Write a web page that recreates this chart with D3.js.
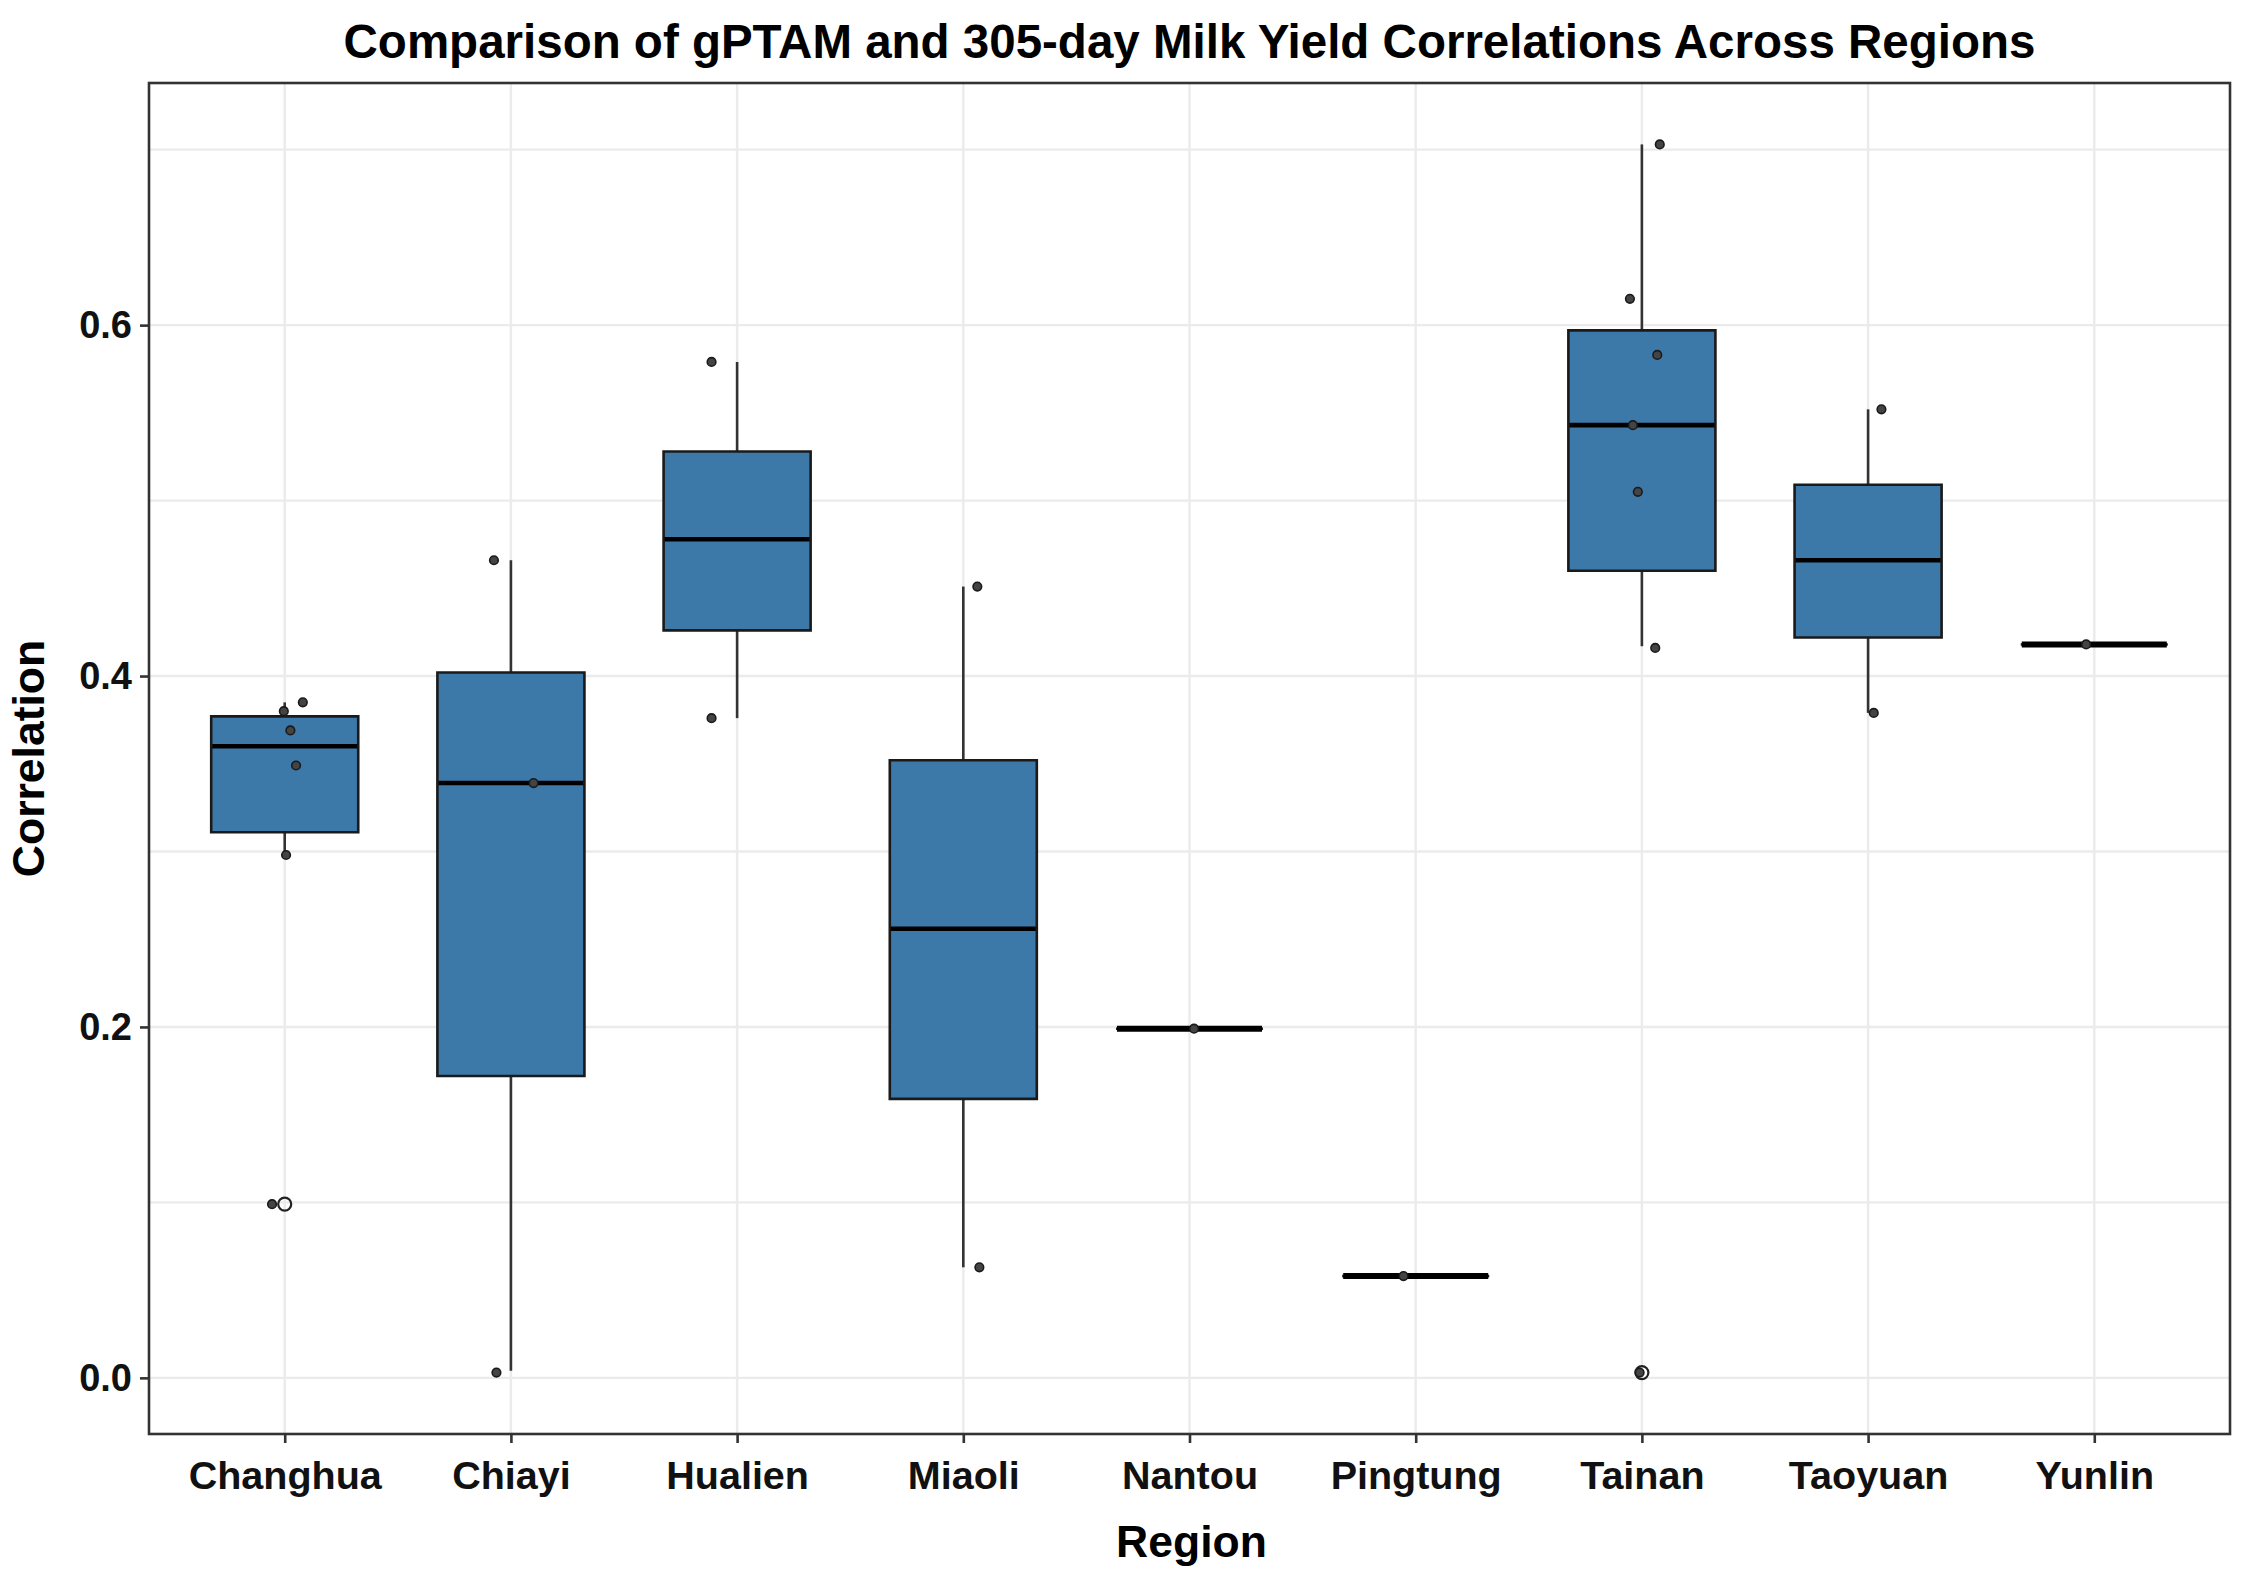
<!DOCTYPE html>
<html>
<head>
<meta charset="utf-8">
<script src="https://cdn.jsdelivr.net/npm/d3@7"></script>
<style>
  body { margin: 0; background: #fff; }
  text { font-family: "Liberation Sans", Arial, sans-serif; }
</style>
</head>
<body>
<div id="plot"></div>
<script>
// Box statistics, one entry per region
const regions = ["Changhua", "Chiayi", "Hualien", "Miaoli", "Nantou", "Pingtung", "Tainan", "Taoyuan", "Yunlin"];
const q1 =          [0.311, 0.172, 0.426, 0.159, 0.199, 0.058, 0.460, 0.422, 0.418];
const median =      [0.360, 0.339, 0.478, 0.256, 0.199, 0.058, 0.543, 0.466, 0.418];
const q3 =          [0.377, 0.402, 0.528, 0.352, 0.199, 0.058, 0.597, 0.509, 0.418];
const whiskerLow =  [0.298, 0.004, 0.376, 0.063, 0.199, 0.058, 0.417, 0.379, 0.418];
const whiskerHigh = [0.385, 0.466, 0.579, 0.451, 0.199, 0.058, 0.703, 0.552, 0.418];

// Boxplot outliers (hollow circles)
const outlierRegion = ["Changhua", "Tainan"];
const outlierValue = [0.099, 0.003];

// Jittered observations; jitter is in category units
const pointRegion = ["Changhua", "Changhua", "Changhua", "Changhua", "Changhua", "Changhua",
  "Chiayi", "Chiayi", "Chiayi",
  "Hualien", "Hualien",
  "Miaoli", "Miaoli",
  "Nantou", "Pingtung",
  "Tainan", "Tainan", "Tainan", "Tainan", "Tainan", "Tainan", "Tainan",
  "Taoyuan", "Taoyuan",
  "Yunlin"];
const pointValue = [0.385, 0.380, 0.369, 0.349, 0.298, 0.099,
  0.466, 0.339, 0.003,
  0.579, 0.376,
  0.451, 0.063,
  0.199, 0.058,
  0.703, 0.615, 0.583, 0.543, 0.505, 0.416, 0.003,
  0.552, 0.379,
  0.418];
const pointJitter = [0.080, -0.004, 0.025, 0.050, 0.006, -0.056,
  -0.075, 0.100, -0.064,
  -0.113, -0.113,
  0.062, 0.071,
  0.020, -0.054,
  0.079, -0.053, 0.068, -0.040, -0.018, 0.059, -0.010,
  0.059, 0.025,
  -0.036];

const yTicks = [0, 0.2, 0.4, 0.6];
const yMinorTicks = [0.1, 0.3, 0.5, 0.7];

// Set up dimensions
const width = 2256;
const height = 1581;
const margin = { top: 83, right: 26, bottom: 147, left: 149 };
const boxColor = "#3C78A8";
const boxWidth = 0.65;

const svg = d3.select("#plot")
  .append("svg")
  .attr("width", width)
  .attr("height", height);

// Scales (ggplot style: 5% expansion on y, 0.6 step on x)
const x = d3.scalePoint()
  .domain(regions)
  .range([margin.left, width - margin.right])
  .padding(0.6);

const allValues = whiskerLow.concat(whiskerHigh, outlierValue, pointValue);
const yMin = d3.min(allValues);
const yMax = d3.max(allValues);
const yPad = (yMax - yMin) * 0.05;
const y = d3.scaleLinear()
  .domain([yMin - yPad, yMax + yPad])
  .range([height - margin.bottom, margin.top]);

const panelLeft = margin.left, panelRight = width - margin.right;
const panelTop = margin.top, panelBottom = height - margin.bottom;

// Grid lines
const grid = svg.append("g").attr("stroke", "#EBEBEB").attr("stroke-width", 2.4);
grid.selectAll(".minor")
  .data(yMinorTicks)
  .enter()
  .append("line")
  .attr("x1", panelLeft).attr("x2", panelRight)
  .attr("y1", d => y(d)).attr("y2", d => y(d));
grid.selectAll(".major")
  .data(yTicks)
  .enter()
  .append("line")
  .attr("x1", panelLeft).attr("x2", panelRight)
  .attr("y1", d => y(d)).attr("y2", d => y(d));
grid.selectAll(".vert")
  .data(regions)
  .enter()
  .append("line")
  .attr("x1", d => x(d)).attr("x2", d => x(d))
  .attr("y1", panelTop).attr("y2", panelBottom);

// Boxes
const boxes = regions.map((r, i) => ({
  region: r, q1: q1[i], median: median[i], q3: q3[i], lo: whiskerLow[i], hi: whiskerHigh[i]
}));
const halfW = x.step() * boxWidth / 2;

const boxG = svg.append("g")
  .selectAll("g")
  .data(boxes)
  .enter()
  .append("g");

boxG.append("line")
  .attr("x1", d => x(d.region)).attr("x2", d => x(d.region))
  .attr("y1", d => y(d.q3)).attr("y2", d => y(d.hi))
  .attr("stroke", "#333").attr("stroke-width", 2.6);

boxG.append("line")
  .attr("x1", d => x(d.region)).attr("x2", d => x(d.region))
  .attr("y1", d => y(d.q1)).attr("y2", d => y(d.lo))
  .attr("stroke", "#333").attr("stroke-width", 2.6);

boxG.append("path")
  .attr("d", d => {
    const x0 = x(d.region) - halfW, x1 = x(d.region) + halfW;
    return `M${x0},${y(d.q3)}H${x1}V${y(d.q1)}H${x0}Z`;
  })
  .attr("fill", boxColor)
  .attr("stroke", "#1a1a1a")
  .attr("stroke-width", 2.6);

boxG.append("line")
  .attr("x1", d => x(d.region) - halfW + 1).attr("x2", d => x(d.region) + halfW - 1)
  .attr("y1", d => y(d.median)).attr("y2", d => y(d.median))
  .attr("stroke", "#000")
  .attr("stroke-width", d => d.q1 === d.q3 ? 6 : 4.6);

// Outliers
svg.append("g")
  .selectAll("circle")
  .data(outlierRegion.map((r, i) => ({ region: r, value: outlierValue[i] })))
  .enter()
  .append("circle")
  .attr("cx", d => x(d.region))
  .attr("cy", d => y(d.value))
  .attr("r", 6.5)
  .attr("fill", "none")
  .attr("stroke", "#222")
  .attr("stroke-width", 2.2);

// Jittered points
svg.append("g")
  .selectAll("circle")
  .data(pointRegion.map((r, i) => ({ region: r, value: pointValue[i], jitter: pointJitter[i] })))
  .enter()
  .append("circle")
  .attr("cx", d => x(d.region) + d.jitter * x.step())
  .attr("cy", d => y(d.value))
  .attr("r", 4.3)
  .attr("fill", "#444")
  .attr("stroke", "#1a1a1a")
  .attr("stroke-width", 1.6);

// Panel border
svg.append("rect")
  .attr("x", panelLeft).attr("y", panelTop)
  .attr("width", panelRight - panelLeft).attr("height", panelBottom - panelTop)
  .attr("fill", "none")
  .attr("stroke", "#333")
  .attr("stroke-width", 2.6);

// Axes
const xAxis = svg.append("g")
  .attr("transform", `translate(0,${panelBottom})`)
  .call(d3.axisBottom(x).tickSize(9).tickPadding(18));

const yAxis = svg.append("g")
  .attr("transform", `translate(${panelLeft},0)`)
  .call(d3.axisLeft(y).tickValues(yTicks).tickFormat(d3.format(".1f")).tickSize(9).tickPadding(8));

[xAxis, yAxis].forEach(ax => {
  ax.select(".domain").remove();
  ax.selectAll(".tick line").attr("stroke", "#333").attr("stroke-width", 2.6);
  ax.selectAll(".tick text")
    .attr("fill", "#111")
    .style("font-family", "'Liberation Sans', Arial, sans-serif")
    .style("font-weight", "bold")
    .style("font-size", "38px");
});
xAxis.selectAll(".tick text").style("font-size", "39.5px");

// Title and axis labels
svg.append("text")
  .attr("x", (panelLeft + panelRight) / 2)
  .attr("y", 58)
  .attr("text-anchor", "middle")
  .style("font-weight", "bold")
  .style("font-size", "47.5px")
  .attr("fill", "#000")
  .text("Comparison of gPTAM and 305-day Milk Yield Correlations Across Regions");

svg.append("text")
  .attr("x", (panelLeft + panelRight) / 2 + 2)
  .attr("y", 1557)
  .attr("text-anchor", "middle")
  .style("font-weight", "bold")
  .style("font-size", "44.5px")
  .attr("fill", "#000")
  .text("Region");

svg.append("text")
  .attr("transform", "rotate(-90)")
  .attr("x", -(panelTop + panelBottom) / 2)
  .attr("y", 44)
  .attr("text-anchor", "middle")
  .style("font-weight", "bold")
  .style("font-size", "44.5px")
  .attr("fill", "#000")
  .text("Correlation");
</script>
</body>
</html>
